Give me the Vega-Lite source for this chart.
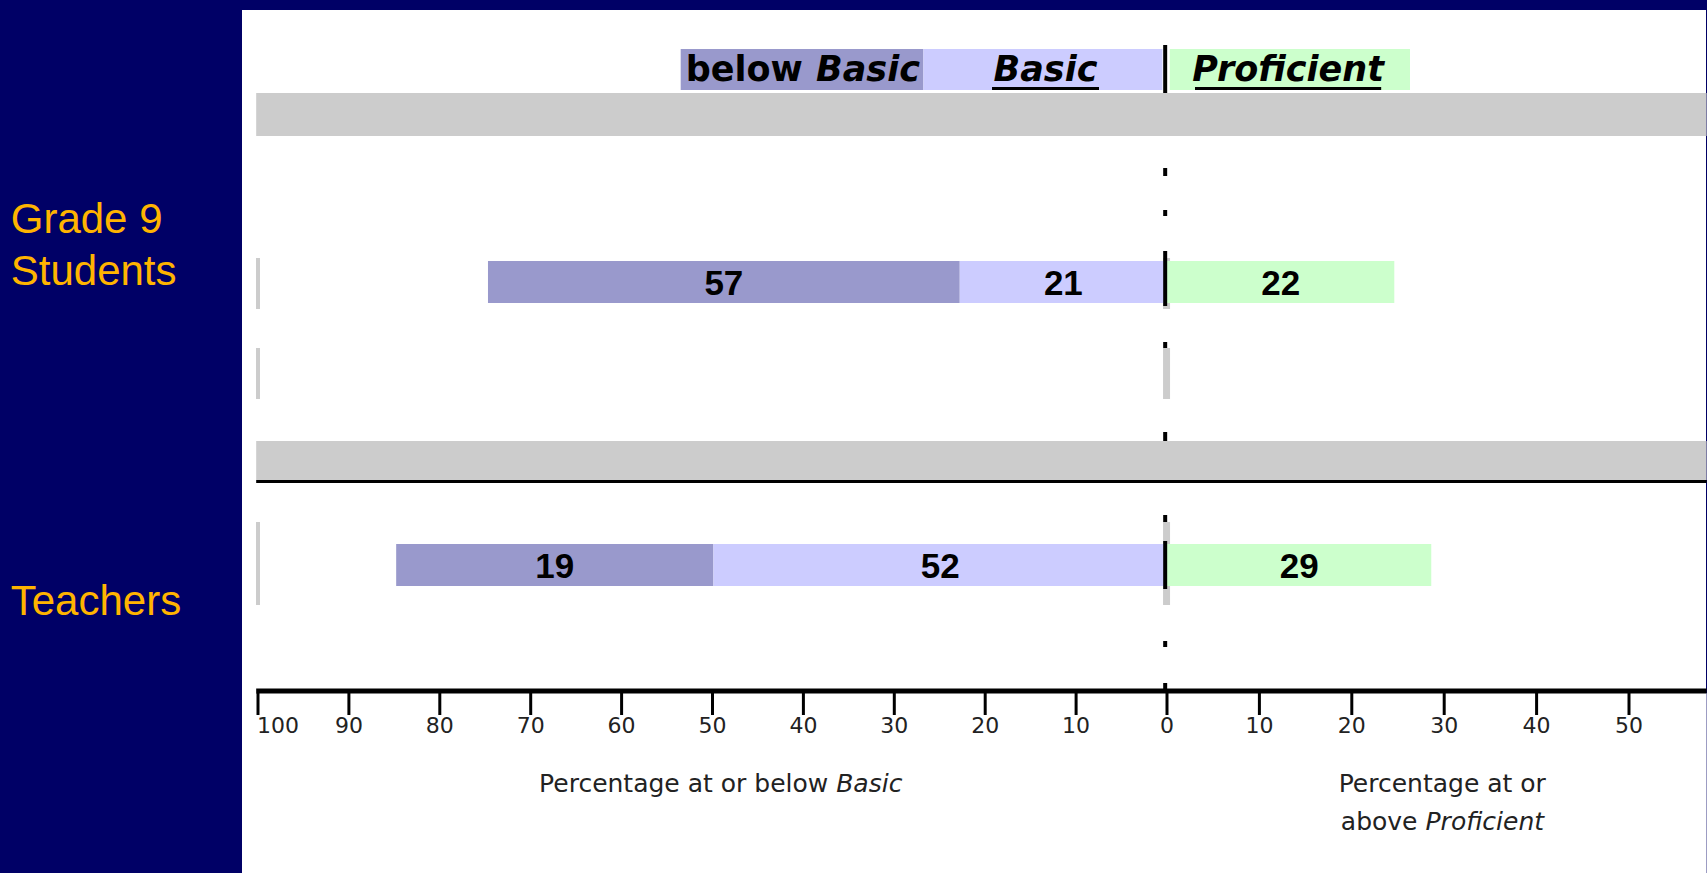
{
  "$schema": "https://vega.github.io/schema/vega-lite/v6.json",
  "autosize": {"type": "none"},
  "width": 1464,
  "height": 683,
  "padding": {"left": 242, "top": 10, "right": 1, "bottom": 180},
  "background": "#000066",
  "config": {"view": {"fill": "#ffffff", "stroke": null}},
  "datasets": {
    "panelBottom": [{"x1": -101.76, "x2": 58.4, "y1": 68.3, "y2": 86.3}],
    "bands": [
      {"x1": -100.2, "x2": 58.4, "y1": 8.3, "y2": 12.6},
      {"x1": -100.2, "x2": 58.4, "y1": 43.1, "y2": 47.0}
    ],
    "greyLeft": [
      {"x1": -100.0, "y1": 24.8, "y2": 29.9},
      {"x1": -100.0, "y1": 33.8, "y2": 38.9},
      {"x1": -100.0, "y1": 51.2, "y2": 59.5}
    ],
    "greyZero": [
      {"x1": -0.05, "y1": 24.8, "y2": 29.9},
      {"x1": -0.05, "y1": 33.8, "y2": 38.9},
      {"x1": -0.05, "y1": 51.2, "y2": 59.5}
    ],
    "legendBoxes": [
      {"level": "below Basic", "x1": -53.5, "x2": -26.8, "y1": 3.9, "y2": 8.0},
      {"level": "Basic", "x1": -26.8, "x2": -0.5, "y1": 3.9, "y2": 8.0},
      {"level": "Proficient", "x1": 0.3, "x2": 26.3, "y1": 3.9, "y2": 8.0}
    ],
    "bars": [
      {"group": "Grade 9 Students", "level": "below Basic", "x1": -74.7, "x2": -22.8, "y1": 25.1, "y2": 29.3, "label": "57"},
      {"group": "Grade 9 Students", "level": "Basic", "x1": -22.8, "x2": 0, "y1": 25.1, "y2": 29.3, "label": "21"},
      {"group": "Grade 9 Students", "level": "Proficient", "x1": 0, "x2": 24.6, "y1": 25.1, "y2": 29.3, "label": "22"},
      {"group": "Teachers", "level": "below Basic", "x1": -84.8, "x2": -49.9, "y1": 53.4, "y2": 57.6, "label": "19"},
      {"group": "Teachers", "level": "Basic", "x1": -49.9, "x2": 0, "y1": 53.4, "y2": 57.6, "label": "52"},
      {"group": "Teachers", "level": "Proficient", "x1": 0, "x2": 28.6, "y1": 53.4, "y2": 57.6, "label": "29"}
    ],
    "dashes": [
      {"x1": -0.2, "y1": 3.5, "y2": 8.3},
      {"x1": -0.2, "y1": 15.8, "y2": 16.6},
      {"x1": -0.2, "y1": 20.0, "y2": 20.6},
      {"x1": -0.2, "y1": 24.1, "y2": 29.6},
      {"x1": -0.2, "y1": 33.2, "y2": 33.8},
      {"x1": -0.2, "y1": 42.2, "y2": 43.1},
      {"x1": -0.2, "y1": 50.5, "y2": 51.2},
      {"x1": -0.2, "y1": 53.1, "y2": 57.9},
      {"x1": -0.2, "y1": 63.1, "y2": 63.7},
      {"x1": -0.2, "y1": 67.3, "y2": 67.9}
    ],
    "bandLine": [{"x1": -100.2, "x2": 58.4, "y1": 47.15}],
    "axisLine": [{"x1": -100.2, "x2": 58.4, "y1": 68.1}],
    "scaleMarks": [
      {"x1": -100, "y1": 68.3, "y2": 70.5, "label": "100"},
      {"x1": -90, "y1": 68.3, "y2": 70.5, "label": "90"},
      {"x1": -80, "y1": 68.3, "y2": 70.5, "label": "80"},
      {"x1": -70, "y1": 68.3, "y2": 70.5, "label": "70"},
      {"x1": -60, "y1": 68.3, "y2": 70.5, "label": "60"},
      {"x1": -50, "y1": 68.3, "y2": 70.5, "label": "50"},
      {"x1": -40, "y1": 68.3, "y2": 70.5, "label": "40"},
      {"x1": -30, "y1": 68.3, "y2": 70.5, "label": "30"},
      {"x1": -20, "y1": 68.3, "y2": 70.5, "label": "20"},
      {"x1": -10, "y1": 68.3, "y2": 70.5, "label": "10"},
      {"x1": 0, "y1": 68.3, "y2": 70.5, "label": "0"},
      {"x1": 10, "y1": 68.3, "y2": 70.5, "label": "10"},
      {"x1": 20, "y1": 68.3, "y2": 70.5, "label": "20"},
      {"x1": 30, "y1": 68.3, "y2": 70.5, "label": "30"},
      {"x1": 40, "y1": 68.3, "y2": 70.5, "label": "40"},
      {"x1": 50, "y1": 68.3, "y2": 70.5, "label": "50"}
    ],
    "underlines": [
      {"x1": -19.25, "x2": -7.48, "y1": 7.85},
      {"x1": 3.03, "x2": 23.18, "y1": 7.85}
    ],
    "groupLabels": [
      {"x1": -127.2, "y1": 22.3, "text": "Grade 9"},
      {"x1": -127.2, "y1": 27.5, "text": "Students"},
      {"x1": -127.2, "y1": 60.5, "text": "Teachers"}
    ],
    "headerPlain": [{"x1": -46.5, "y1": 7.1, "text": "below"}],
    "headerItalic": [
      {"x1": -32.9, "y1": 7.1, "text": "Basic"},
      {"x1": -13.37, "y1": 7.1, "text": "Basic"},
      {"x1": 13.11, "y1": 7.1, "text": "Proficient"}
    ],
    "titleRight": [
      {"x1": -37.27, "y1": 78.2, "text": "Percentage at or below"},
      {"x1": 27.11, "y1": 82.0, "text": "above"}
    ],
    "titleCenter": [{"x1": 29.79, "y1": 78.2, "text": "Percentage at or"}],
    "titleItalic": [
      {"x1": -36.39, "y1": 78.2, "text": "Basic"},
      {"x1": 27.98, "y1": 82.0, "text": "Proficient"}
    ]
  },
  "encoding": {
    "x": {
      "field": "x1",
      "type": "quantitative",
      "scale": {"domain": [-100, 0, 50], "range": [16, 925, 1387], "nice": false, "zero": false},
      "axis": null
    },
    "y": {
      "field": "y1",
      "type": "quantitative",
      "scale": {"domain": [0, 68.3], "reverse": true, "nice": false, "zero": false},
      "axis": null
    }
  },
  "layer": [
    {
      "data": {"name": "panelBottom"},
      "mark": {"type": "rect", "color": "#ffffff"},
      "encoding": {"x2": {"field": "x2"}, "y2": {"field": "y2"}}
    },
    {
      "data": {"name": "bands"},
      "mark": {"type": "rect", "color": "#CCCCCC"},
      "encoding": {"x2": {"field": "x2"}, "y2": {"field": "y2"}}
    },
    {
      "data": {"name": "greyLeft"},
      "mark": {"type": "rule", "color": "#CCCCCC", "strokeWidth": 4},
      "encoding": {"y2": {"field": "y2"}}
    },
    {
      "data": {"name": "greyZero"},
      "mark": {"type": "rule", "color": "#CCCCCC", "strokeWidth": 7},
      "encoding": {"y2": {"field": "y2"}}
    },
    {
      "data": {"name": "legendBoxes"},
      "mark": {"type": "rect"},
      "encoding": {
        "x2": {"field": "x2"},
        "y2": {"field": "y2"},
        "color": {"field": "level", "type": "nominal", "scale": {"domain": ["below Basic", "Basic", "Proficient"], "range": ["#9999CC", "#CCCCFF", "#CCFFCC"]}, "legend": null}
      }
    },
    {
      "data": {"name": "bars"},
      "mark": {"type": "rect"},
      "encoding": {
        "x2": {"field": "x2"},
        "y2": {"field": "y2"},
        "color": {"field": "level", "type": "nominal", "scale": {"domain": ["below Basic", "Basic", "Proficient"], "range": ["#9999CC", "#CCCCFF", "#CCFFCC"]}, "legend": null}
      }
    },
    {
      "data": {"name": "dashes"},
      "mark": {"type": "rule", "color": "#000000", "strokeWidth": 4},
      "encoding": {"y2": {"field": "y2"}}
    },
    {
      "data": {"name": "bandLine"},
      "mark": {"type": "rule", "color": "#000000", "strokeWidth": 3},
      "encoding": {"x2": {"field": "x2"}}
    },
    {
      "data": {"name": "axisLine"},
      "mark": {"type": "rule", "color": "#000000", "strokeWidth": 5},
      "encoding": {"x2": {"field": "x2"}}
    },
    {
      "data": {"name": "scaleMarks"},
      "mark": {"type": "rule", "color": "#000000", "strokeWidth": 3},
      "encoding": {"y2": {"field": "y2"}}
    },
    {
      "data": {"name": "scaleMarks"},
      "transform": [{"filter": "datum.x1 > -100"}],
      "mark": {"type": "text", "font": "DejaVu Sans", "fontSize": 22, "color": "#222222", "align": "center", "baseline": "top", "dy": 1},
      "encoding": {
        "y": {"field": "y2", "type": "quantitative", "scale": {"domain": [0, 68.3], "reverse": true, "nice": false, "zero": false}, "axis": null},
        "text": {"field": "label"}
      }
    },
    {
      "data": {"name": "scaleMarks"},
      "transform": [{"filter": "datum.x1 == -100"}],
      "mark": {"type": "text", "font": "DejaVu Sans", "fontSize": 22, "color": "#222222", "align": "left", "baseline": "top", "dy": 1, "dx": -1},
      "encoding": {
        "y": {"field": "y2", "type": "quantitative", "scale": {"domain": [0, 68.3], "reverse": true, "nice": false, "zero": false}, "axis": null},
        "text": {"field": "label"}
      }
    },
    {
      "data": {"name": "underlines"},
      "mark": {"type": "rule", "color": "#000000", "strokeWidth": 3},
      "encoding": {"x2": {"field": "x2"}}
    },
    {
      "data": {"name": "bars"},
      "transform": [
        {"calculate": "(datum.x1 + datum.x2) / 2", "as": "xm"},
        {"calculate": "(datum.y1 + datum.y2) / 2", "as": "ym"}
      ],
      "mark": {"type": "text", "font": "Liberation Sans", "fontSize": 35, "fontWeight": "bold", "color": "#000000", "align": "center", "baseline": "middle", "dy": 2},
      "encoding": {
        "x": {"field": "xm", "type": "quantitative", "scale": {"domain": [-100, 0, 50], "range": [16, 925, 1387], "nice": false, "zero": false}, "axis": null},
        "y": {"field": "ym", "type": "quantitative", "scale": {"domain": [0, 68.3], "reverse": true, "nice": false, "zero": false}, "axis": null},
        "text": {"field": "label"}
      }
    },
    {
      "data": {"name": "headerPlain"},
      "mark": {"type": "text", "font": "DejaVu Sans", "fontSize": 35, "fontWeight": "bold", "color": "#000000", "align": "center", "baseline": "alphabetic"},
      "encoding": {"text": {"field": "text"}}
    },
    {
      "data": {"name": "headerItalic"},
      "mark": {"type": "text", "font": "DejaVu Sans", "fontSize": 35, "fontWeight": "bold", "fontStyle": "italic", "color": "#000000", "align": "center", "baseline": "alphabetic"},
      "encoding": {"text": {"field": "text"}}
    },
    {
      "data": {"name": "groupLabels"},
      "mark": {"type": "text", "font": "Liberation Sans", "fontSize": 42, "color": "#FFB400", "align": "left", "baseline": "alphabetic"},
      "encoding": {"text": {"field": "text"}}
    },
    {
      "data": {"name": "titleRight"},
      "mark": {"type": "text", "font": "DejaVu Sans", "fontSize": 25, "color": "#222222", "align": "right", "baseline": "alphabetic"},
      "encoding": {"text": {"field": "text"}}
    },
    {
      "data": {"name": "titleCenter"},
      "mark": {"type": "text", "font": "DejaVu Sans", "fontSize": 25, "color": "#222222", "align": "center", "baseline": "alphabetic"},
      "encoding": {"text": {"field": "text"}}
    },
    {
      "data": {"name": "titleItalic"},
      "mark": {"type": "text", "font": "DejaVu Sans", "fontSize": 25, "fontStyle": "italic", "color": "#222222", "align": "left", "baseline": "alphabetic"},
      "encoding": {"text": {"field": "text"}}
    }
  ]
}
